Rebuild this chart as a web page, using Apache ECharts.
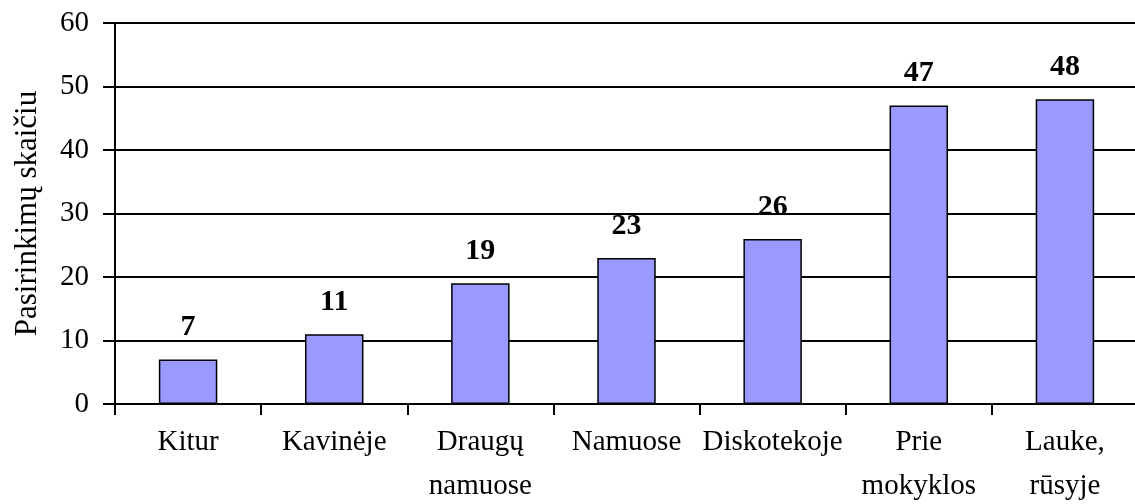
<!DOCTYPE html>
<html lang="lt">
  <head>
    <meta charset="UTF-8" />
    <title>Pasirinkimų skaičius</title>
    <script src="https://cdn.jsdelivr.net/npm/echarts@6/dist/echarts.min.js"></script>
    <style>
      html, body { margin: 0; padding: 0; background: #fff; }
    </style>
  </head>
  <body>
    <div id="main" style="width: 1135px; height: 504px"></div>
    <script type="text/javascript">
      var categories = ["Kitur", "Kavinėje", "Draugų\nnamuose", "Namuose", "Diskotekoje", "Prie\nmokyklos", "Lauke,\nrūsyje"];
      var values = [7, 11, 19, 23, 26, 47, 48];
      var axisName = "Pasirinkimų skaičiu";

      var font = "'Liberation Serif', 'Times New Roman', serif";
      var myChart = echarts.init(document.getElementById("main"));

      var option = {
        animation: false,
        grid: { left: 115, right: -3, top: 23, bottom: 100, outerBoundsMode: "none", containLabel: false },
        xAxis: {
          type: "category",
          data: categories,
          axisLine: { lineStyle: { color: "#000", width: 2 } },
          axisTick: { show: true, length: 11, lineStyle: { color: "#000", width: 2 } },
          axisLabel: {
            color: "#000",
            fontFamily: font,
            fontSize: 29,
            lineHeight: 44,
            margin: 16,
            interval: 0,
          },
        },
        yAxis: {
          type: "value",
          min: 0,
          max: 60,
          interval: 10,
          name: axisName,
          nameLocation: "middle",
          nameGap: 72,
          nameTextStyle: { color: "#000", fontFamily: font, fontSize: 31 },
          axisLine: { show: true, lineStyle: { color: "#000", width: 2 } },
          axisTick: { show: true, length: 12, lineStyle: { color: "#000", width: 2 } },
          axisLabel: { color: "#000", fontFamily: font, fontSize: 29, margin: 26 },
          splitLine: { show: true, lineStyle: { color: "#000", width: 2 } },
        },
        series: [
          {
            type: "bar",
            data: values,
            barWidth: "40%",
            itemStyle: { color: "#9999ff", borderColor: "#000", borderWidth: 1.5 },
            label: {
              show: true,
              position: "top",
              distance: 17,
              color: "#000",
              fontFamily: font,
              fontSize: 30,
              fontWeight: "bold",
            },
          },
        ],
      };
      myChart.setOption(option);
    </script>
  </body>
</html>
